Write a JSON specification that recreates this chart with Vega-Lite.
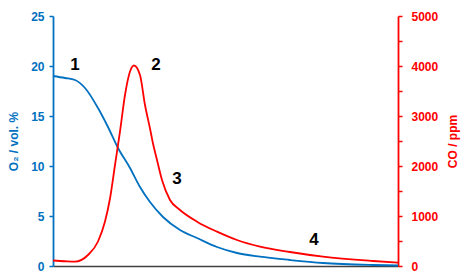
{
  "$schema": "https://vega.github.io/schema/vega-lite/v6.json",
  "width": 345,
  "height": 250,
  "autosize": "none",
  "padding": {"left": 53, "top": 16, "right": 66, "bottom": 9},
  "background": "white",
  "config": {"view": {"stroke": null}, "font": "Liberation Sans"},
  "datasets": {
    "o2": [
      {"t": 0, "o2": 19.0}, {"t": 12, "o2": 18.8}, {"t": 22, "o2": 18.6}, {"t": 32, "o2": 17.8},
      {"t": 45, "o2": 15.8}, {"t": 55, "o2": 13.9}, {"t": 65, "o2": 11.8}, {"t": 77, "o2": 9.8},
      {"t": 87, "o2": 7.9}, {"t": 97, "o2": 6.4}, {"t": 110, "o2": 4.9}, {"t": 127, "o2": 3.6},
      {"t": 144, "o2": 2.8}, {"t": 164, "o2": 1.9}, {"t": 184, "o2": 1.3}, {"t": 207, "o2": 0.93},
      {"t": 237, "o2": 0.6}, {"t": 270, "o2": 0.3}, {"t": 320, "o2": 0.1}, {"t": 345, "o2": 0.05}
    ],
    "co": [
      {"t": 0, "co": 110}, {"t": 12, "co": 95}, {"t": 22, "co": 87}, {"t": 35, "co": 220},
      {"t": 45, "co": 490}, {"t": 52, "co": 890}, {"t": 57, "co": 1350}, {"t": 62, "co": 2020},
      {"t": 67, "co": 2690}, {"t": 72, "co": 3420}, {"t": 77, "co": 3890}, {"t": 81, "co": 4010},
      {"t": 87, "co": 3820}, {"t": 92, "co": 3220}, {"t": 97, "co": 2750}, {"t": 100, "co": 2450},
      {"t": 104, "co": 2120}, {"t": 109, "co": 1720}, {"t": 117, "co": 1320}, {"t": 127, "co": 1120},
      {"t": 144, "co": 887}, {"t": 164, "co": 687}, {"t": 184, "co": 520}, {"t": 207, "co": 387},
      {"t": 237, "co": 280}, {"t": 270, "co": 187}, {"t": 320, "co": 100}, {"t": 345, "co": 67}
    ],
    "labels": [
      {"t": 22, "o2": 20.1, "label": "1"},
      {"t": 103, "o2": 20.1, "label": "2"},
      {"t": 124, "o2": 8.7, "label": "3"},
      {"t": 261, "o2": 2.6, "label": "4"}
    ]
  },
  "layer": [
    {
      "layer": [
        {
          "data": {"name": "o2"},
          "mark": {"type": "line", "color": "#0070C0", "strokeWidth": 1.8, "interpolate": "monotone"},
          "encoding": {
            "x": {"field": "t", "type": "quantitative", "scale": {"domain": [0, 345], "nice": false},
              "axis": {"title": null, "labels": false, "ticks": false, "grid": false, "domainColor": "#404040", "domainWidth": 1.5}},
            "y": {"field": "o2", "type": "quantitative", "scale": {"domain": [0, 25], "nice": false},
              "axis": {
                "title": "O₂ / vol. %", "titleColor": "#0070C0", "titleFont": "Liberation Sans", "titleFontSize": 12, "titleFontWeight": "bold", "titlePadding": 10,
                "values": [0, 2.5, 5, 7.5, 10, 12.5, 15, 17.5, 20, 22.5, 25],
                "labelExpr": "datum.value % 5 == 0 ? datum.label : ''",
                "labelOverlap": false, "labelColor": "#0070C0", "labelFontSize": 12, "labelFontWeight": "bold", "labelPadding": 5,
                "tickColor": "#0070C0", "tickSize": 4, "tickWidth": 1.5, "domainColor": "#0070C0", "domainWidth": 1.8, "grid": false
              }}
          }
        },
        {
          "data": {"name": "labels"},
          "mark": {"type": "text", "fontSize": 17, "font": "Liberation Sans", "fontWeight": "bold", "color": "black", "align": "center", "baseline": "middle"},
          "encoding": {
            "x": {"field": "t", "type": "quantitative"},
            "y": {"field": "o2", "type": "quantitative"},
            "text": {"field": "label"}
          }
        }
      ]
    },
    {
      "data": {"name": "co"},
      "mark": {"type": "line", "color": "#FF0000", "strokeWidth": 1.8, "interpolate": "monotone"},
      "encoding": {
        "x": {"field": "t", "type": "quantitative"},
        "y": {"field": "co", "type": "quantitative", "scale": {"domain": [0, 5000], "nice": false},
          "axis": {
            "orient": "right",
            "title": "CO / ppm", "titleColor": "#FF0000", "titleFontSize": 12, "titleFontWeight": "bold",
            "titleAngle": 270, "titleX": 54, "titleY": 125, "titleAlign": "center", "titleBaseline": "middle",
            "values": [0, 500, 1000, 1500, 2000, 2500, 3000, 3500, 4000, 4500, 5000],
            "labelExpr": "datum.value % 1000 == 0 ? datum.label : ''",
            "format": "d",
            "labelOverlap": false, "labelColor": "#FF0000", "labelFontSize": 12, "labelFontWeight": "bold", "labelPadding": 9,
            "tickColor": "#FF0000", "tickSize": 4, "tickWidth": 1.5, "domainColor": "#FF0000", "domainWidth": 1.8, "grid": false
          }}
      }
    }
  ],
  "resolve": {"scale": {"y": "independent"}}
}
